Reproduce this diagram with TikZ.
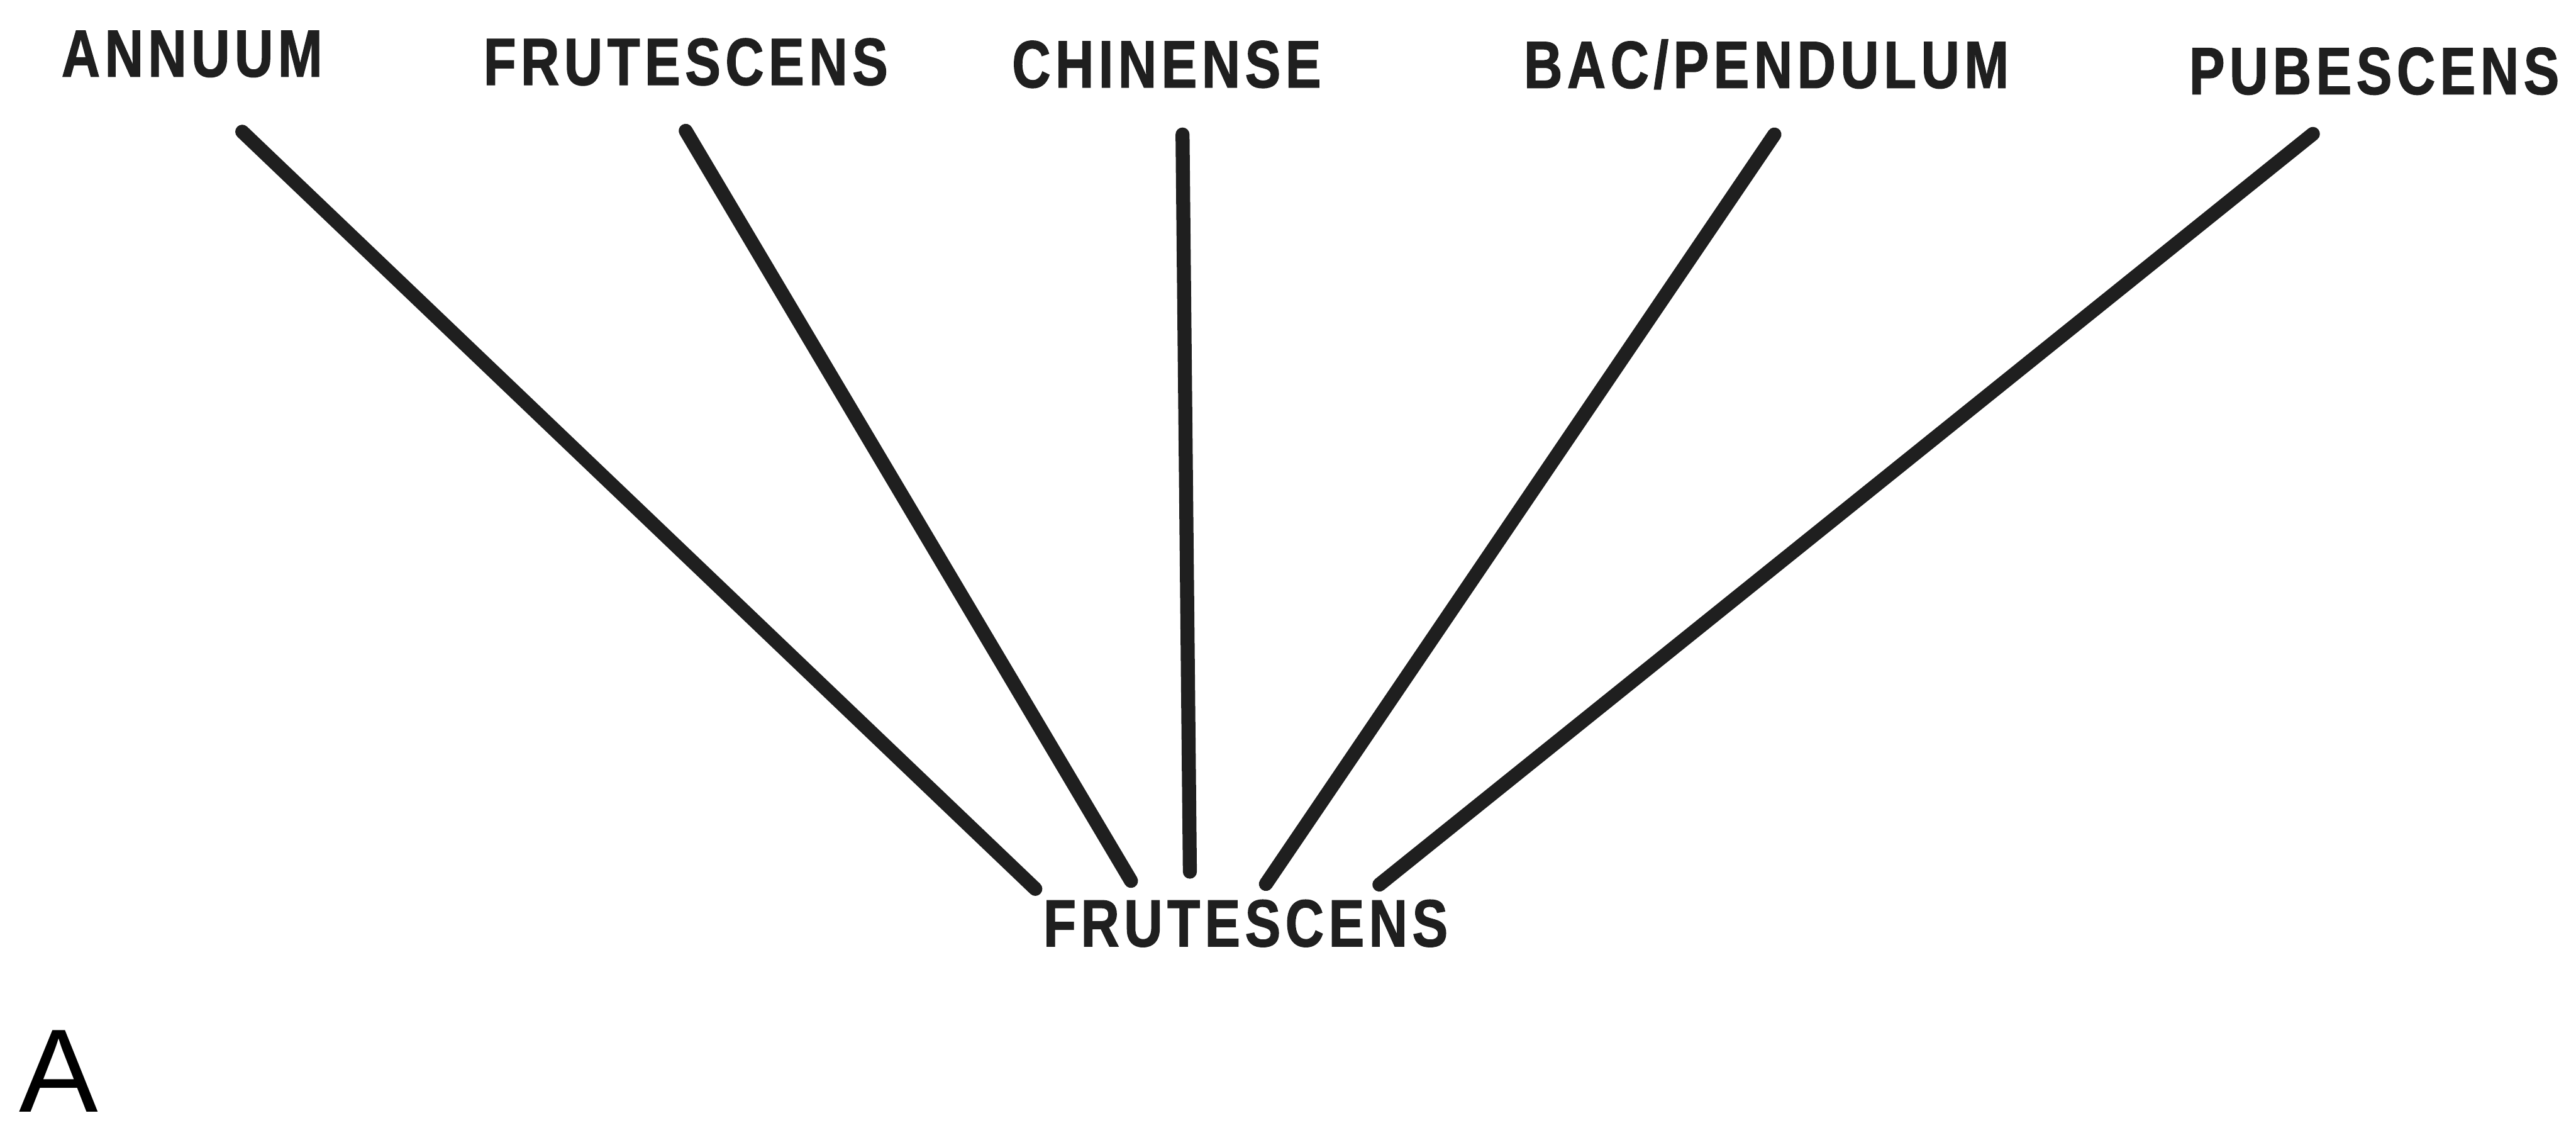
\documentclass[tikz,border=0pt]{standalone}
\usepackage{fontspec}
\usepackage{tikz}
\newfontfamily\labfont[FakeStretch=0.8,LetterSpace=7,FakeBold=1.2]{Liberation Sans}
\newfontfamily\panfont{Liberation Sans}

\begin{document}
\begin{tikzpicture}[
   lab/.style={font=\labfont\bfseries\fontsize{31}{31}\selectfont,inner sep=0pt,text=black!88},
   ln/.style={line width=6.5pt,line cap=round,black!88}]
  \useasboundingbox (0,0) rectangle (42,18.57);
  % species at the top
  \node[lab] (ann) at (3.13,17.69) {ANNUUM};
  \node[lab] (fr1) at (11.18,17.56) {FRUTESCENS};
  \node[lab] (chi) at (19.02,17.52) {CHINENSE};
  \node[lab] (bac) at (28.80,17.52) {BAC/PENDULUM};
  \node[lab] (pub) at (38.71,17.41) {PUBESCENS};
  % common parent
  \node[lab] (fru) at (20.31,3.52) {FRUTESCENS};
  \node[font=\panfont\fontsize{55}{55}\selectfont,inner sep=0pt] (pan) at (0.96,1.11) {A};
  \draw[ln] ([shift={(0.82,-0.88)}]ann.south)--([shift={(-3.43,0.17)}]fru.north);
  \draw[ln] ([shift={(0,-0.73)}]fr1.south)--([shift={(-1.87,0.30)}]fru.north);
  \draw[ln] ([shift={(0.26,-0.75)}]chi.south)--([shift={(-0.91,0.45)}]fru.north);
  \draw[ln] ([shift={(0.13,-0.73)}]bac.south)--([shift={(0.33,0.25)}]fru.north);
  \draw[ln] ([shift={(-1.00,-0.63)}]pub.south)--([shift={(2.18,0.24)}]fru.north);
\end{tikzpicture}
\end{document}
